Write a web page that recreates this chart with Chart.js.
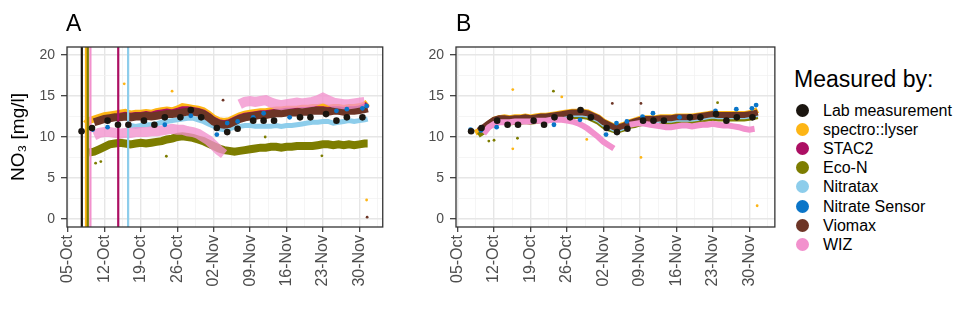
<!DOCTYPE html>
<html>
<head>
<meta charset="utf-8">
<script src="https://cdn.jsdelivr.net/npm/chart.js@4.4.1/dist/chart.umd.min.js"></script>
<style>
  body{margin:0;background:#fff;font-family:'Liberation Sans',Arial,sans-serif;}
  #wrap{position:relative;width:960px;height:325px;overflow:hidden}
  canvas{position:absolute;top:0}
  .tag{position:absolute;top:12px;font-size:23px;line-height:1;color:#000}
  #legend{position:absolute;left:795px;top:0;color:#000}
  #legend .ttl{position:absolute;left:-1px;top:68px;font-size:23px;line-height:1;white-space:nowrap}
  #legend .row{position:absolute;left:0;height:19px;line-height:19px;font-size:16px;white-space:nowrap}
  #legend .dot{position:absolute;left:1px;top:3px;width:13px;height:13px;border-radius:50%}
  #legend .lbl{position:absolute;left:28px}
</style>
</head>
<body>
<div id="wrap">
  <canvas id="chA" width="400" height="325" style="left:0"></canvas>
  <canvas id="chB" width="400" height="325" style="left:390px"></canvas>
  <div class="tag" style="left:66px">A</div>
  <div class="tag" style="left:456px">B</div>
  <div id="legend"></div>
</div>
<script>
/* NO3 sensor comparison — A: raw, B: corrected */

// axes (x = days after 05-Oct)
const xTickDays=[0,7,14,21,28,35,42,49,56];
const xTickLabels=['05-Oct','12-Oct','19-Oct','26-Oct','02-Nov','09-Nov','16-Nov','23-Nov','30-Nov'];
const xGridDays=[0,3.5,7,10.5,14,17.5,21,24.5,28,31.5,35,38.5,42,45.5,49,52.5,56,59.5];
const yTicks=[0,5,10,15,20];
const yGrid=[0,2.5,5,7.5,10,12.5,15,17.5,20];
const xRangeA=[-0.2,60.5], xRangeB=[-0.3,60.9], yRange=[-1,21];

const sensors=['Lab measurement','spectro::lyser','STAC2','Eco-N','Nitratax','Nitrate Sensor','Viomax','WIZ'];
const sensorColors=['#1b1610','#fdb515','#ac0f63','#7d7d00','#8dcdeb','#0a75c8','#6d3526','#f291cd'];

// continuous sensors, sampled once per day
const dayGrid=[3.4,4,5,6,7,8,9, 10,11,12,13,14,15,16, 17,18,19,20,21,22,23, 24,25,26,27,28,29,30,
  31,32,33,34,35,36,37, 38,39,40,41,42,43,44, 45,46,47,48,49,50,51, 52,53,54,55,56,57,57.6];

// panel A (raw)
const spectroA=[11.6,12.0,12.2,12.4,12.6,12.7,12.8, 12.9,13.0,12.8,12.9,12.9,13.0,12.9, 13.1,13.2,13.3,13.2,13.4,13.7,13.6,
  13.5,13.4,13.2,12.8,12.3,12.0,11.9, 12.0,12.3,12.6,12.8,12.9,13.0,13.1, 13.1,13.2,13.3,13.3,13.4,13.4,13.4,
  13.5,13.5,13.6,13.6,13.7,13.5,13.6, 13.6,13.5,13.6,13.6,13.7,13.9,14.2];
const stac2A=[null,null,null,null,null,null,null, 12.6,12.7,12.6,12.7,12.7,12.8,12.7, 12.9,13.0,13.1,13.0,13.2,13.4,13.4,
  13.3,13.2,13.0,12.6,12.1,11.8,11.7, 11.8,12.1,12.4,12.6,12.7,12.8,12.9, 12.9,13.0,13.1,13.1,13.2,13.2,13.2,
  13.3,13.3,13.4,13.4,13.4,13.3,13.4, 13.4,13.3,13.4,13.4,13.5,13.7,14.0];
const ecoA=[null,8.1,8.2,8.5,8.8,9.1,9.2, 9.3,9.2,9.1,9.2,9.3,9.2,9.3, 9.4,9.5,9.7,9.8,10.0,10.1,10.0,
  9.9,9.7,9.5,9.2,8.9,8.6,8.4, 8.3,8.2,8.3,8.4,8.5,8.6,8.7, 8.7,8.8,8.8,8.7,8.8,8.8,8.9,
  8.9,8.9,8.9,9.0,9.1,9.1,9.0, 9.1,9.0,9.1,9.0,9.1,9.2,9.2];
const nitrataxA=[null,null,null,null,null,null,null, null,null,11.4,11.3,11.4,11.5,11.5, 11.6,11.8,11.9,12.0,12.1,12.2,12.3,
  12.3,12.1,11.9,11.6,11.3,11.0,10.9, 11.0,11.2,11.3,11.4,11.4,11.3,11.3, 11.3,11.3,11.4,11.3,11.4,11.4,11.5,
  11.6,11.7,11.8,11.8,11.9,11.9,11.7, 11.8,11.9,12.0,11.9,12.0,12.1,12.2];
const viomaxA=[null,null,11.8,12.0,12.2,12.3,12.4, 12.4,12.5,12.4,12.5,12.5,12.6,12.5, 12.6,12.7,12.8,12.8,12.9,13.0,13.1,
  13.1,13.0,12.8,12.4,11.9,11.6,11.5, 11.6,11.9,12.2,12.4,12.5,12.6,12.7, 12.7,12.8,12.9,12.9,13.0,13.0,13.0,
  13.1,13.1,13.2,13.2,13.2,13.1,13.2, 13.2,13.1,13.2,13.2,13.3,13.4,13.5];
const wizA=[null,null,10.2,10.5,10.6,10.6,10.5, 10.4,10.5,10.5,10.6,10.6,10.6,10.7, 10.7,10.8,10.9,11.0,10.9,10.9,10.7,
  10.6,10.4,10.0,9.6,9.0,8.4,7.9, null,null,14.0,14.3,14.4,14.3,14.4, 14.5,14.2,14.0,13.9,14.0,14.1,14.2,
  14.1,14.2,14.3,14.5,14.8,14.5,14.2, 14.1,14.0,14.0,14.1,14.2,14.3,null];

// panel B (corrected)
const spectroB=[10.5,10.7,11.1,11.6,12.1,12.3,12.4, 12.3,12.4,12.4,12.5,12.4,12.5,12.6, 12.6,12.7,12.8,12.9,13.0,13.1,13.1,
  13.1,13.0,12.7,12.4,11.9,11.6,11.3, 11.3,11.5,11.8,12.0,12.2,12.3,12.3, 12.3,12.4,12.4,12.4,12.5,12.5,12.5,
  12.5,12.6,12.7,12.8,12.9,12.8,12.8, 12.8,12.8,12.8,12.8,12.9,13.1,13.3];
const stac2B=[null,null,null,null,null,null,null, 12.1,12.2,12.2,12.3,12.2,12.3,12.4, 12.4,12.5,12.6,12.7,12.8,12.9,12.9,
  12.9,12.8,12.5,12.2,11.7,11.4,11.1, 11.1,11.3,11.6,11.8,12.0,12.1,12.1, 12.1,12.2,12.2,12.2,12.3,12.3,12.3,
  12.3,12.4,12.5,12.6,12.7,12.6,12.6, 12.6,12.6,12.6,12.6,12.7,12.8,12.9];
const ecoB=[null,10.2,10.6,11.2,11.6,11.8,11.8, 11.7,11.8,11.8,11.9,11.8,11.9,12.0, 12.0,12.1,12.2,12.3,12.4,12.5,12.5,
  12.5,12.4,12.1,11.8,11.3,11.0,10.8, 10.8,11.0,11.3,11.4,11.6,11.7,11.7, 11.7,11.8,11.8,11.8,11.9,11.9,11.9,
  11.9,12.0,12.1,12.2,12.3,12.2,12.2, 12.2,12.2,12.2,12.2,12.3,12.4,12.5];
const nitrataxB=[null,null,null,null,null,null,null, null,null,12.0,12.1,12.0,12.1,12.2, 12.2,12.3,12.4,12.5,12.6,12.7,12.7,
  12.7,12.6,12.3,12.0,11.5,11.2,10.9, 10.9,11.1,11.4,11.6,11.8,11.9,11.9, 11.9,12.0,12.0,12.0,12.1,12.1,12.1,
  12.1,12.2,12.3,12.4,12.5,12.4,12.4, 12.4,12.4,12.4,12.4,12.5,12.6,12.7];
const viomaxB=[null,10.8,11.2,11.7,12.1,12.3,12.3, 12.2,12.3,12.3,12.4,12.3,12.4,12.5, 12.5,12.6,12.7,12.8,12.9,13.0,13.0,
  13.0,12.9,12.6,12.3,11.8,11.5,11.2, 11.2,11.4,11.7,11.9,12.1,12.2,12.2, 12.2,12.3,12.3,12.3,12.4,12.4,12.4,
  12.4,12.5,12.6,12.7,12.8,12.7,12.7, 12.7,12.7,12.7,12.7,12.8,12.9,13.0];
const wizB=[null,null,10.4,11.2,11.6,11.8,11.8, 11.8,11.9,11.9,11.9,11.9,12.0,12.0, 12.0,12.1,12.1,12.1,12.0,11.9,11.7,
  11.4,11.0,10.5,10.0,9.4,9.0,8.6, null,null,11.5,11.6,11.7,11.6,11.5, 11.4,11.3,11.2,11.2,11.3,11.4,11.4,
  11.3,11.4,11.5,11.5,11.6,11.5,11.4, 11.4,11.3,11.2,11.0,10.9,11.0,null];

// grab samples
const labDays=[2.6,4.6,7.6,9.6,11.6,14.6,16.6,18.6,21.6,23.6,25.6,28.6,30.6,32.6,35.6,37.6,39.6,44.6,46.6,49.6,51.6,53.6,56.6];
const labVals=[10.7,11.1,12.0,11.5,11.5,12.0,11.5,12.4,12.4,13.3,12.4,11.1,10.6,11.0,12.0,12.0,12.0,12.4,12.4,12.8,12.0,12.4,12.4];
const nsDaysA=[4.7,7.6,18.6,23.6,28.6,30.6,32.6,35.6,37.6,42.6,51.6,53.6,56.6,57.4];
const nsValsA=[10.9,11.2,11.5,12.6,10.3,11.7,11.9,12.4,12.9,12.4,13.2,13.4,13.5,13.8];
const nsDaysB=[2.5,4.5,7.5,18.5,23.5,28.5,30.5,32.5,35.5,37.5,42.6,44.6,49.5,53.5,56.5,57.3];
const nsValsB=[10.9,10.8,11.2,11.5,12.1,10.3,11.7,11.9,12.5,12.9,12.4,12.4,13.2,13.4,13.5,13.9];

// stray readings (sensor index into sensors[])
const outDaysA=[10.8,20.0,57.4,29.8,57.5,5.3,6.3,18.9,37.9,48.8];
const outValsA=[16.5,15.6,2.3,14.5,0.2,6.8,7.0,7.65,10.0,7.7];
const outSensorA=[1,1,1,6,6,3,3,3,3,3];
const outDaysB=[10.6,10.6,20.0,24.8,35.2,57.5,18.4,11.5,49.9,6.0,7.0,29.7,35.2];
const outValsB=[15.8,8.55,14.9,9.7,7.5,1.6,15.6,9.85,14.2,9.5,9.6,14.1,14.1];
const outSensorB=[1,1,1,1,1,1,3,3,3,3,3,6,6];

// sensor start markers in panel A
const startDaysA=[2.65,3.45,3.8,4.3,9.65,11.55];
const startSensorA=[0,1,3,7,2,4];

// lower = drawn on top
const drawOrder=[0,7,6,5,4,1,3,2];

Chart.defaults.font.family="'Liberation Sans', Arial, sans-serif";

const pts=(days,vals)=>days.map((d,i)=>({x:d,y:vals[i]}));
function band(vals,k,w,alpha){
  const col=alpha?sensorColors[k]+alpha:sensorColors[k];
  return {label:sensors[k],data:pts(dayGrid,vals),showLine:true,borderColor:col,borderWidth:w,
    pointRadius:0,spanGaps:false,tension:0,order:drawOrder[k]};
}
function dots(days,vals,k,r){
  return {label:sensors[k],data:pts(days,vals),showLine:false,backgroundColor:sensorColors[k],borderWidth:0,
    pointRadius:r,order:drawOrder[k]};
}
function strays(days,vals,who){
  return {label:'stray',data:pts(days,vals),showLine:false,backgroundColor:who.map(k=>sensorColors[k]),
    borderWidth:0,pointRadius:1.4,order:1};
}

const startLines={
  id:'startLines',
  beforeDatasetDraw(chart,args,opts){
    if(args.index!==0||!opts.days||!opts.days.length)return;
    const {ctx,chartArea:a,scales:{x}}=chart;
    ctx.save();
    ctx.beginPath();ctx.rect(a.left,a.top,a.width,a.height);ctx.clip();
    opts.days.forEach((d,i)=>{
      const px=x.getPixelForValue(d);
      ctx.strokeStyle=sensorColors[opts.sensor[i]];ctx.lineWidth=2.2;
      ctx.beginPath();ctx.moveTo(px,a.top);ctx.lineTo(px,a.bottom);ctx.stroke();
    });
    ctx.restore();
  }
};
const frame={
  id:'frame',
  afterDraw(chart){
    const {ctx,chartArea:a}=chart;
    ctx.save();ctx.strokeStyle='#333';ctx.lineWidth=1.3;
    ctx.strokeRect(a.left,a.top,a.width,a.height);ctx.restore();
  }
};

function panel(id,datasets,xr,yW,padR,withTitle,starts){
  return new Chart(document.getElementById(id),{
    type:'scatter',
    data:{datasets},
    options:{
      responsive:false,animation:false,devicePixelRatio:1,
      layout:{padding:{top:47,right:padR,left:0,bottom:0}},
      plugins:{legend:{display:false},tooltip:{enabled:false},startLines:starts},
      scales:{
        x:{type:'linear',min:xr[0],max:xr[1],
          afterBuildTicks:s=>{s.ticks=xGridDays.map(v=>({value:v}));},
          afterFit:s=>{s.height=98;},
          border:{display:false},
          grid:{color:c=>xTickDays.includes(c.tick&&c.tick.value)?'#e6e6e6':'#f3f3f3',
                lineWidth:c=>xTickDays.includes(c.tick&&c.tick.value)?1.4:0.8,
                tickColor:c=>xTickDays.includes(c.tick&&c.tick.value)?'#333':'rgba(0,0,0,0)',
                tickLength:5,tickWidth:1.2},
          ticks:{autoSkip:false,minRotation:90,maxRotation:90,padding:3,color:'#4d4d4d',font:{size:16},
                 callback:v=>{const i=xTickDays.indexOf(v);return i<0?'':xTickLabels[i];}}},
        y:{type:'linear',min:yRange[0],max:yRange[1],
          afterBuildTicks:s=>{s.ticks=yGrid.map(v=>({value:v}));},
          afterFit:s=>{s.width=yW;},
          border:{display:false},
          grid:{color:c=>yTicks.includes(c.tick&&c.tick.value)?'#e6e6e6':'#f3f3f3',
                lineWidth:c=>yTicks.includes(c.tick&&c.tick.value)?1.4:0.8,
                tickColor:c=>yTicks.includes(c.tick&&c.tick.value)?'#333':'rgba(0,0,0,0)',
                tickLength:6,tickWidth:1.2},
          ticks:{autoSkip:false,padding:6,color:'#4d4d4d',font:{size:14},
                 callback:v=>yTicks.includes(v)?String(v):''},
          title:{display:withTitle,text:'NO₃ [mg/l]',color:'#000',font:{size:19},padding:{top:7,bottom:0}}}
      }
    },
    plugins:[startLines,frame]
  });
}

panel('chA',[
  dots(labDays,labVals,0,3.3),
  band(spectroA,1,7),band(stac2A,2,6),band(ecoA,3,8),band(nitrataxA,4,5),
  dots(nsDaysA,nsValsA,5,2.4),band(viomaxA,6,8),band(wizA,7,10,'c8'),
  strays(outDaysA,outValsA,outSensorA)
],xRangeA,67,16,true,{days:startDaysA,sensor:startSensorA});

panel('chB',[
  dots(labDays,labVals,0,3.3),
  band(spectroB,1,6),band(stac2B,2,5),band(ecoB,3,5),band(nitrataxB,4,4),
  dots(nsDaysB,nsValsB,5,2.4),band(viomaxB,6,6),band(wizB,7,6),
  strays(outDaysB,outValsB,outSensorB)
],xRangeB,66,10,false,{days:[]});

// legend
const lg=document.getElementById('legend');
let h='<div class="ttl">Measured by:</div>';
sensors.forEach((s,i)=>{
  h+=`<div class="row" style="top:${(101+i*19.1).toFixed(1)}px"><span class="dot" style="background:${sensorColors[i]}"></span><span class="lbl">${s}</span></div>`;
});
lg.innerHTML=h;
</script>
</body>
</html>
